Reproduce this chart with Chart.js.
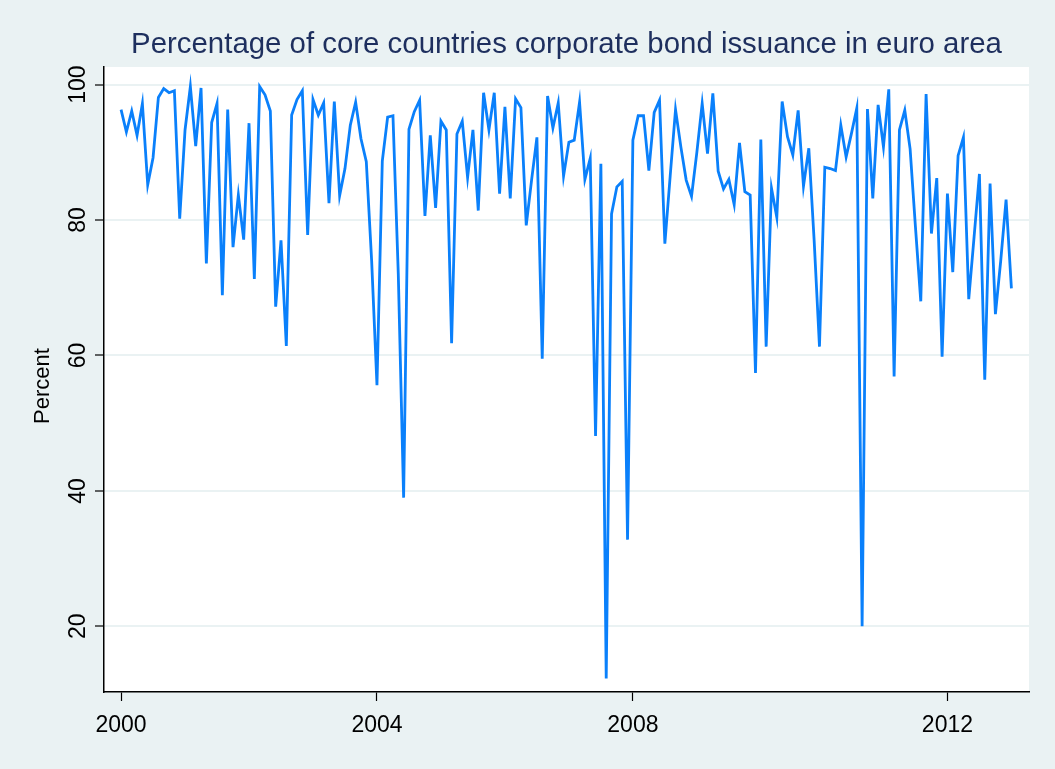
<!DOCTYPE html>
<html>
<head>
<meta charset="utf-8">
<title>Core countries corporate bond issuance</title>
<script src="https://cdn.jsdelivr.net/npm/chart.js@4.4.1/dist/chart.umd.min.js"></script>
<style>
  html, body { margin: 0; padding: 0; background: #eaf2f3; }
  #wrap { width: 1055px; height: 769px; }
</style>
</head>
<body>
<div id="wrap"><canvas id="issuanceChart" width="1055" height="769"></canvas></div>
<script>
// monthly observations, Jan 2000 onwards
const months = [];
for (let y = 2000; y <= 2013; y++) {
  for (let m = 1; m <= 12; m++) months.push(y + '-' + String(m).padStart(2, '0'));
}

// share of core countries in euro area corporate bond issuance (%)
const coreShare = [
  96.3, 93.0, 96.1, 92.5, 97.2, 85.2, 89.2, 98.1, 99.4, 98.8, 99.1, 80.2,
  93.3, 99.7, 90.9, 99.5, 73.6, 94.4, 97.2, 68.9, 96.3, 76.0, 83.7, 77.1,
  94.3, 71.3, 99.7, 98.5, 96.1, 67.2, 77.0, 61.4, 95.5, 97.8, 99.1, 77.8,
  97.8, 95.5, 97.3, 82.5, 97.5, 83.6, 87.6, 94.0, 97.4, 92.0, 88.6, 74.0,
  55.6, 88.7, 95.2, 95.4, 72.0, 39.0, 93.4, 96.0, 97.7, 80.6, 92.5, 81.8,
  94.6, 93.3, 61.8, 92.7, 94.6, 86.3, 93.3, 81.4, 98.8, 93.3, 98.8, 83.9,
  96.7, 83.2, 97.9, 96.6, 79.2, 85.9, 92.2, 59.5, 98.3, 93.6, 97.3, 86.5,
  91.5, 91.8, 97.4, 86.0, 89.1, 48.1, 88.3, 12.3, 80.9, 84.9, 85.7, 32.8,
  91.8, 95.4, 95.4, 87.3, 95.9, 97.7, 76.5, 86.5, 96.3, 90.8, 85.9, 83.5,
  90.0, 97.2, 89.8, 98.7, 87.2, 84.6, 86.0, 82.3, 91.4, 84.2, 83.7, 57.4,
  91.9, 61.3, 84.7, 80.4, 97.5, 92.3, 89.6, 96.2, 85.0, 90.6, 77.0, 61.3,
  87.8, 87.6, 87.3, 94.0, 89.3, 92.8, 96.5, 20.0, 96.4, 83.2, 97.0, 90.8,
  99.3, 56.9, 93.3, 96.2, 90.5, 79.0, 68.0, 98.6, 78.0, 86.2, 59.8, 83.9,
  72.3, 89.5, 92.2, 68.3, 77.5, 86.8, 56.4, 85.4, 66.1, 74.0, 83.0, 69.9
];

// x axis labels and the months they sit on
const yearLabels = ['2000', '2004', '2008', '2012'];
const yearLabelMonths = ['2000-01', '2004-01', '2008-01', '2012-12'];
const yTicks = [20, 40, 60, 80, 100];

const points = coreShare.map((v, i) => ({ x: i, y: v }));
const xTickPos = yearLabelMonths.map(m => months.indexOf(m));

const FONT = "'Liberation Sans', Arial, sans-serif";

// light backdrop with a white plot region
const backdrop = {
  id: 'backdrop',
  beforeDraw(chart) {
    const { ctx, chartArea: a } = chart;
    ctx.save();
    ctx.fillStyle = '#eaf2f3';
    ctx.fillRect(0, 0, chart.width, chart.height);
    ctx.fillStyle = '#ffffff';
    ctx.fillRect(a.left, a.top, a.right - a.left, a.bottom - a.top);
    ctx.restore();
  }
};

// vertical axis title
const yTitle = {
  id: 'yTitle',
  afterDraw(chart) {
    const { ctx } = chart;
    ctx.save();
    ctx.translate(43, 386);
    ctx.rotate(-Math.PI / 2);
    ctx.font = '22px ' + FONT;
    ctx.fillStyle = '#000000';
    ctx.textAlign = 'center';
    ctx.textBaseline = 'middle';
    ctx.fillText('Percent', 0, 0);
    ctx.restore();
  }
};

new Chart(document.getElementById('issuanceChart'), {
  type: 'line',
  data: {
    datasets: [{
      label: 'Core countries share',
      data: points,
      borderColor: '#0a80fb',
      borderWidth: 2.8,
      pointRadius: 0,
      tension: 0,
      fill: false
    }]
  },
  options: {
    responsive: false,
    animation: false,
    layout: { padding: { top: 0, right: 26, bottom: 0, left: 0 } },
    plugins: {
      legend: { display: false },
      tooltip: { enabled: false },
      title: {
        display: true,
        fullSize: false,
        text: 'Percentage of core countries corporate bond issuance in euro area',
        color: '#1e2f5e',
        font: { family: FONT, size: 29.4, weight: 'normal', lineHeight: 1.2 },
        padding: { top: 27.5, bottom: 4.2 }
      }
    },
    scales: {
      x: {
        type: 'linear',
        min: -3.2,
        max: 170.3,
        afterFit: s => { s.height = 77; },
        afterBuildTicks: s => { s.ticks = xTickPos.map(v => ({ value: v })); },
        ticks: {
          autoSkip: false,
          maxRotation: 0,
          padding: 11,
          color: '#000000',
          font: { family: FONT, size: 23 },
          callback: v => yearLabels[xTickPos.indexOf(v)]
        },
        grid: {
          drawOnChartArea: false,
          drawTicks: true,
          tickLength: 9,
          tickColor: '#000000',
          tickWidth: 1.2
        },
        border: { display: true, color: '#000000', width: 1.5 }
      },
      y: {
        min: 10.3,
        max: 102.6,
        afterFit: s => { s.width = 104; },
        afterBuildTicks: s => { s.ticks = yTicks.map(v => ({ value: v })); },
        ticks: {
          minRotation: 90,
          maxRotation: 90,
          crossAlign: 'center',
          padding: -3,
          color: '#000000',
          font: { family: FONT, size: 23 }
        },
        grid: {
          color: '#eaf2f3',
          lineWidth: 2,
          drawTicks: true,
          tickLength: 9,
          tickColor: '#000000',
          tickWidth: 1.2
        },
        border: { display: true, color: '#000000', width: 1.5 }
      }
    }
  },
  plugins: [backdrop, yTitle]
});
</script>
</body>
</html>
